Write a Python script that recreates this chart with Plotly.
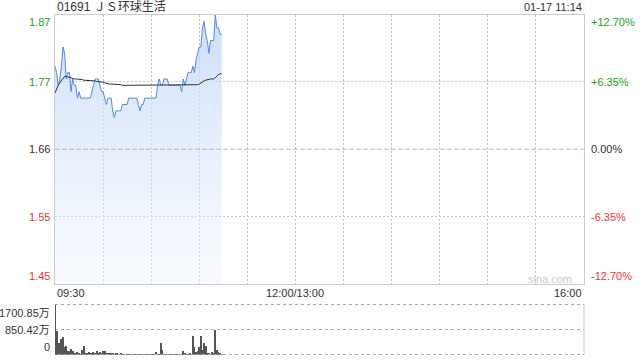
import plotly.graph_objects as go

# ---------------- data ----------------
prev_close = 1.66
pct_ticks = [0.127, 0.0635, 0.0, -0.0635, -0.127]
price_tick_text = ["1.87", "1.77", "1.66", "1.55", "1.45"]
pct_tick_text = ["+12.70%", "+6.35%", "0.00%", "-6.35%", "-12.70%"]

x_tick_minutes = [0, 150, 330]
x_tick_text = ["09:30", "12:00/13:00", "16:00"]

price = [
    1.79, 1.78, 1.76, 1.77, 1.79, 1.82, 1.81, 1.77, 1.78, 1.78,
    1.75, 1.77, 1.76, 1.76, 1.74, 1.75, 1.74, 1.74, 1.74, 1.74,
    1.74, 1.74, 1.74, 1.75, 1.76, 1.77, 1.77, 1.77, 1.76, 1.75,
    1.75, 1.74, 1.73, 1.74, 1.74, 1.74, 1.72, 1.71, 1.72, 1.72,
    1.72, 1.72, 1.73, 1.73, 1.73, 1.73, 1.74, 1.74, 1.74, 1.74,
    1.74, 1.74, 1.73, 1.72, 1.73, 1.73, 1.74, 1.74, 1.74, 1.74,
    1.74, 1.74, 1.74, 1.74, 1.76, 1.77, 1.76, 1.76, 1.77, 1.77,
    1.77, 1.76, 1.76, 1.76, 1.76, 1.76, 1.76, 1.76, 1.76, 1.75,
    1.77, 1.76, 1.77, 1.78, 1.78, 1.78, 1.79, 1.78, 1.80, 1.81,
    1.82, 1.82, 1.85, 1.86, 1.84, 1.83, 1.81, 1.83, 1.83, 1.83,
    1.87, 1.85, 1.85, 1.84, 1.84,
]

avg_price = [
    1.748, 1.755, 1.760, 1.764, 1.768, 1.772, 1.774, 1.774, 1.773, 1.772,
    1.771, 1.771, 1.770, 1.770, 1.770, 1.769, 1.769, 1.769, 1.768, 1.768,
    1.768, 1.768, 1.767, 1.767, 1.767, 1.767, 1.766, 1.766, 1.766, 1.765,
    1.765, 1.764, 1.763, 1.763, 1.762, 1.762, 1.762, 1.761, 1.761, 1.761,
    1.761, 1.761, 1.760, 1.760, 1.760, 1.760, 1.760, 1.760, 1.760, 1.760,
    1.760, 1.760, 1.760, 1.760, 1.760, 1.760, 1.760, 1.760, 1.760, 1.760,
    1.760, 1.760, 1.760, 1.760, 1.760, 1.760, 1.760, 1.760, 1.760, 1.760,
    1.760, 1.760, 1.760, 1.760, 1.760, 1.760, 1.760, 1.760, 1.760, 1.760,
    1.760, 1.760, 1.760, 1.760, 1.760, 1.760, 1.760, 1.760, 1.760, 1.761,
    1.762, 1.764, 1.766, 1.767, 1.768, 1.769, 1.770, 1.770, 1.770, 1.770,
    1.772, 1.775, 1.777, 1.778, 1.778,
]

volume_wan = [
    1700.85, 804, 402, 402, 540, 610, 260, 300, 150, 150,
    200, 130, 80, 60, 95, 40, 25, 170, 290, 70,
    40, 110, 35, 60, 95, 70, 150, 70, 90, 40,
    150, 150, 70, 35, 35, 60, 35, 25, 60, 35,
    15, 35, 20, 30, 15, 25, 20, 30, 15, 20,
    30, 20, 15, 25, 20, 15, 30, 20, 15, 25,
    20, 30, 20, 90, 25, 20, 400, 180, 30, 20,
    15, 25, 30, 20, 15, 25, 20, 30, 20, 15,
    150, 55, 30, 20, 40, 25, 630, 265, 90, 125,
    265, 630, 170, 425, 290, 40, 60, 30, 90, 40,
    838, 170, 115, 60, 20,
]
vol_max = 1700.85
vol_mid = 850.42
vol_tick_text = ["1700.85万", "850.42万", "0"]

title_text = "01691 ＪＳ环球生活"
stamp_text = "01-17 11:14"

# ---------------- figure ----------------
W, H = 640, 360
minutes = list(range(len(price)))
hi = prev_close * (1 + pct_ticks[0])
lo = prev_close * (1 + pct_ticks[-1])
tick_prices = [prev_close * (1 + p) for p in pct_ticks]

GREEN = "#1aa31a"
RED = "#f03232"
DARK = "#333333"
FONT = "Liberation Sans, Arial, Noto Sans CJK SC, sans-serif"
GRID = "#c4c4c4"
grid_dash = "2px,2px"

VOL_TOP_PX, VOL_BOT_PX = 304.5, 354.5

def tick_color(p):
    return GREEN if p > 0 else (RED if p < 0 else DARK)

fig = go.Figure()

fig.add_trace(go.Scatter(
    x=minutes, y=price, mode="lines",
    line=dict(color="#5189f0", width=1),
    fill="tozeroy",
    fillgradient=dict(type="vertical", start=lo, stop=hi,
                      colorscale=[[0, "rgba(235,242,253,0.35)"],
                                  [1, "rgba(195,215,248,0.85)"]]),
    xaxis="x", yaxis="y", hoverinfo="skip", showlegend=False,
))
fig.add_trace(go.Scatter(
    x=minutes, y=avg_price, mode="lines",
    line=dict(color="#333333", width=1),
    xaxis="x", yaxis="y", hoverinfo="skip", showlegend=False,
))
fig.add_trace(go.Bar(
    x=minutes, y=volume_wan, width=0.6,
    marker=dict(color="#555555", line=dict(width=0)),
    xaxis="x2", yaxis="y2", hoverinfo="skip", showlegend=False,
))

xdom = [55 / W, 584 / W]

fig.update_layout(
    width=W, height=H, autosize=False,
    margin=dict(l=0, r=0, t=0, b=0),
    paper_bgcolor="white", plot_bgcolor="white",
    font=dict(family=FONT, size=11, color=DARK),
    bargap=0,
    xaxis=dict(domain=xdom, range=[0, 330], tickvals=list(range(0, 331, 30)),
               showticklabels=False, ticks="", showgrid=True,
               gridcolor=GRID, griddash=grid_dash, gridwidth=1,
               showline=True, mirror=True, linecolor="#cccccc", linewidth=1,
               zeroline=False, anchor="y"),
    yaxis=dict(domain=[1 - 284 / H, 1 - 14.5 / H], range=[lo, hi],
               tickvals=[tick_prices[1], tick_prices[3]],
               showticklabels=False, ticks="", showgrid=True,
               gridcolor=GRID, griddash=grid_dash, gridwidth=1,
               showline=True, mirror=True, linecolor="#cccccc", linewidth=1,
               zeroline=False, anchor="x"),
    xaxis2=dict(domain=xdom, range=[0, 330], showticklabels=False, ticks="",
                showgrid=False, showline=False, zeroline=False, anchor="y2"),
    yaxis2=dict(domain=[1 - VOL_BOT_PX / H, 1 - VOL_TOP_PX / H],
                range=[0, vol_max],
                showticklabels=False, ticks="", showgrid=False,
                showline=False, zeroline=False, anchor="x2"),
)

# previous-close dashed line
fig.add_shape(type="line", xref="x domain", yref="y", x0=0, x1=1,
              y0=prev_close, y1=prev_close,
              line=dict(color="#bbbbbb", width=1, dash="5px,2px"))
# volume panel: dotted middle reference line
fig.add_shape(type="line", xref="x2 domain", yref="y2", x0=0, x1=1,
              y0=vol_mid, y1=vol_mid, layer="below",
              line=dict(color="#a8a8a8", width=1, dash="dot"))
# volume panel frame: dotted top/bottom edges (unclipped), solid right edge
for ypx in [VOL_TOP_PX, VOL_BOT_PX]:
    fig.add_shape(type="line", xref="paper", yref="paper",
                  x0=xdom[0], x1=xdom[1], y0=1 - ypx / H, y1=1 - ypx / H,
                  layer="below",
                  line=dict(color="#a8a8a8", width=1, dash="dot"))
fig.add_shape(type="line", xref="paper", yref="paper", x0=xdom[1], x1=xdom[1],
              y0=1 - VOL_BOT_PX / H, y1=1 - VOL_TOP_PX / H,
              line=dict(color="#cccccc", width=1))

ann = []
for i, (yp, pt, ct, p) in enumerate(zip(tick_prices, price_tick_text,
                                        pct_tick_text, pct_ticks)):
    ya = "top" if i == 0 else ("bottom" if i == len(pct_ticks) - 1 else "middle")
    col = tick_color(p)
    ann.append(dict(x=52 / W, xref="paper", xanchor="right", y=yp, yref="y",
                    yanchor=ya, text=pt, showarrow=False,
                    font=dict(size=11, color=col)))
    ann.append(dict(x=589 / W, xref="paper", xanchor="left", y=yp, yref="y",
                    yanchor=ya, text=ct, showarrow=False,
                    font=dict(size=11, color=col)))

for xm, t, xa in zip(x_tick_minutes, x_tick_text, ["left", "center", "right"]):
    ann.append(dict(x=xm, xref="x", xanchor=xa, y=1 - 293 / H, yref="paper",
                    yanchor="middle", text=t, showarrow=False,
                    font=dict(size=11, color=DARK)))

for yv, t, ya in zip([vol_max, vol_mid, 0], vol_tick_text,
                     ["top", "middle", "bottom"]):
    ann.append(dict(x=52 / W, xref="paper", xanchor="right", y=yv, yref="y2",
                    yanchor=ya, text=t, showarrow=False,
                    font=dict(size=11, color=DARK)))

ann.append(dict(x=55 / W, xref="paper", xanchor="left", y=1 - 7 / H,
                yref="paper", yanchor="middle", text=title_text,
                showarrow=False, font=dict(size=12, color=DARK)))
ann.append(dict(x=584 / W, xref="paper", xanchor="right", y=1 - 7 / H,
                yref="paper", yanchor="middle", text=stamp_text,
                showarrow=False, font=dict(size=11, color=DARK)))
ann.append(dict(x=574 / W, xref="paper", xanchor="right", y=1 - 279 / H,
                yref="paper", yanchor="middle", text="sina.com",
                showarrow=False, font=dict(size=11, color="#cccccc")))

fig.update_layout(annotations=ann)

fig.write_html("out.html", config={"displayModeBar": False})
